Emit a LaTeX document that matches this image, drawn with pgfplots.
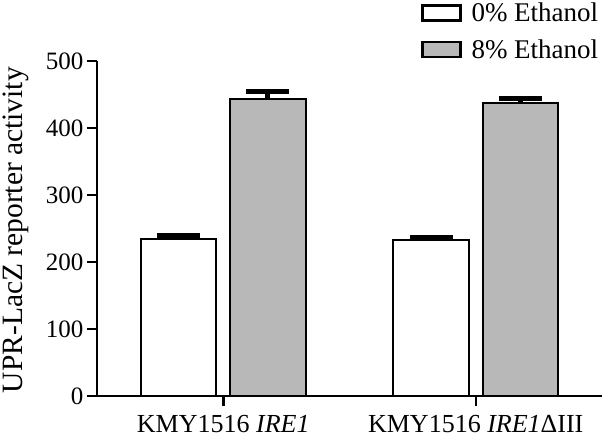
\documentclass[border=0pt]{standalone}
\usepackage{pgfplots}
\pgfplotsset{compat=1.18}
\usepackage{fontspec}
\setmainfont{Liberation Serif}
\definecolor{bargray}{RGB}{184,184,184}
\newcommand{\bigf}{\fontsize{25}{30}\selectfont}
\begin{document}
\begin{tikzpicture}[font=\bigf]
\begin{axis}[
  at={(0pt,0pt)}, anchor=south west,
  scale only axis, width=505pt, height=335pt,
  xmin=-0.5, xmax=1.5, ymin=0, ymax=500,
  axis x line=bottom, axis y line=left,
  axis line style={line width=2.5pt, -},
  every tick/.style={line width=2.5pt, black},
  tick align=outside,
  major tick length=10pt,
  yticklabel style={font=\bigf},
  xticklabel style={font=\fontsize{26}{30}\selectfont, yshift=-6pt},
  xtick={0,1},
  xticklabels={KMY1516 \textit{IRE1}, KMY1516 \textit{IRE1}Δ{}III},
  ytick={0,100,...,500},
  /pgf/number format/assume math mode=true,
  ylabel={UPR-LacZ reporter activity},
  ylabel style={font=\fontsize{29.5}{36}\selectfont, at={(axis description cs:-0.186,0.495)}, anchor=north, inner sep=0pt},
  ybar, bar width=0.3, bar shift=0pt,
  error bars/y dir=plus, error bars/y explicit,
  error bars/error mark=|,
  error bars/error mark options={line width=5pt, mark size=21.5pt, black},
  error bars/error bar style={line width=5pt, black},
  legend style={at={(axis description cs:0.6416,1.173)}, anchor=north west,
    draw=none, fill=none, inner sep=0pt, outer sep=0pt, row sep=16pt,
    column sep=10pt, font=\fontsize{27}{32}\selectfont,
    nodes={inner sep=0pt}},
  legend cell align=left,
  legend image code/.code={\draw[#1, line width=2.5pt] (0pt,-7.5pt) rectangle (38pt,7.5pt);},
]
\addplot[draw=black, line width=2pt, fill=white] coordinates {(-0.177,234) +- (0,5) (0.823,233) +- (0,3)};
\addplot[draw=black, line width=2pt, fill=bargray] coordinates {(0.177,444) +- (0,11) (1.177,438) +- (0,6)};
\legend{0\% Ethanol, 8\% Ethanol}
\end{axis}
\pgfresetboundingbox
\path[use as bounding box] (-97pt,-43pt) rectangle (505pt,396pt);
\end{tikzpicture}
\end{document}
